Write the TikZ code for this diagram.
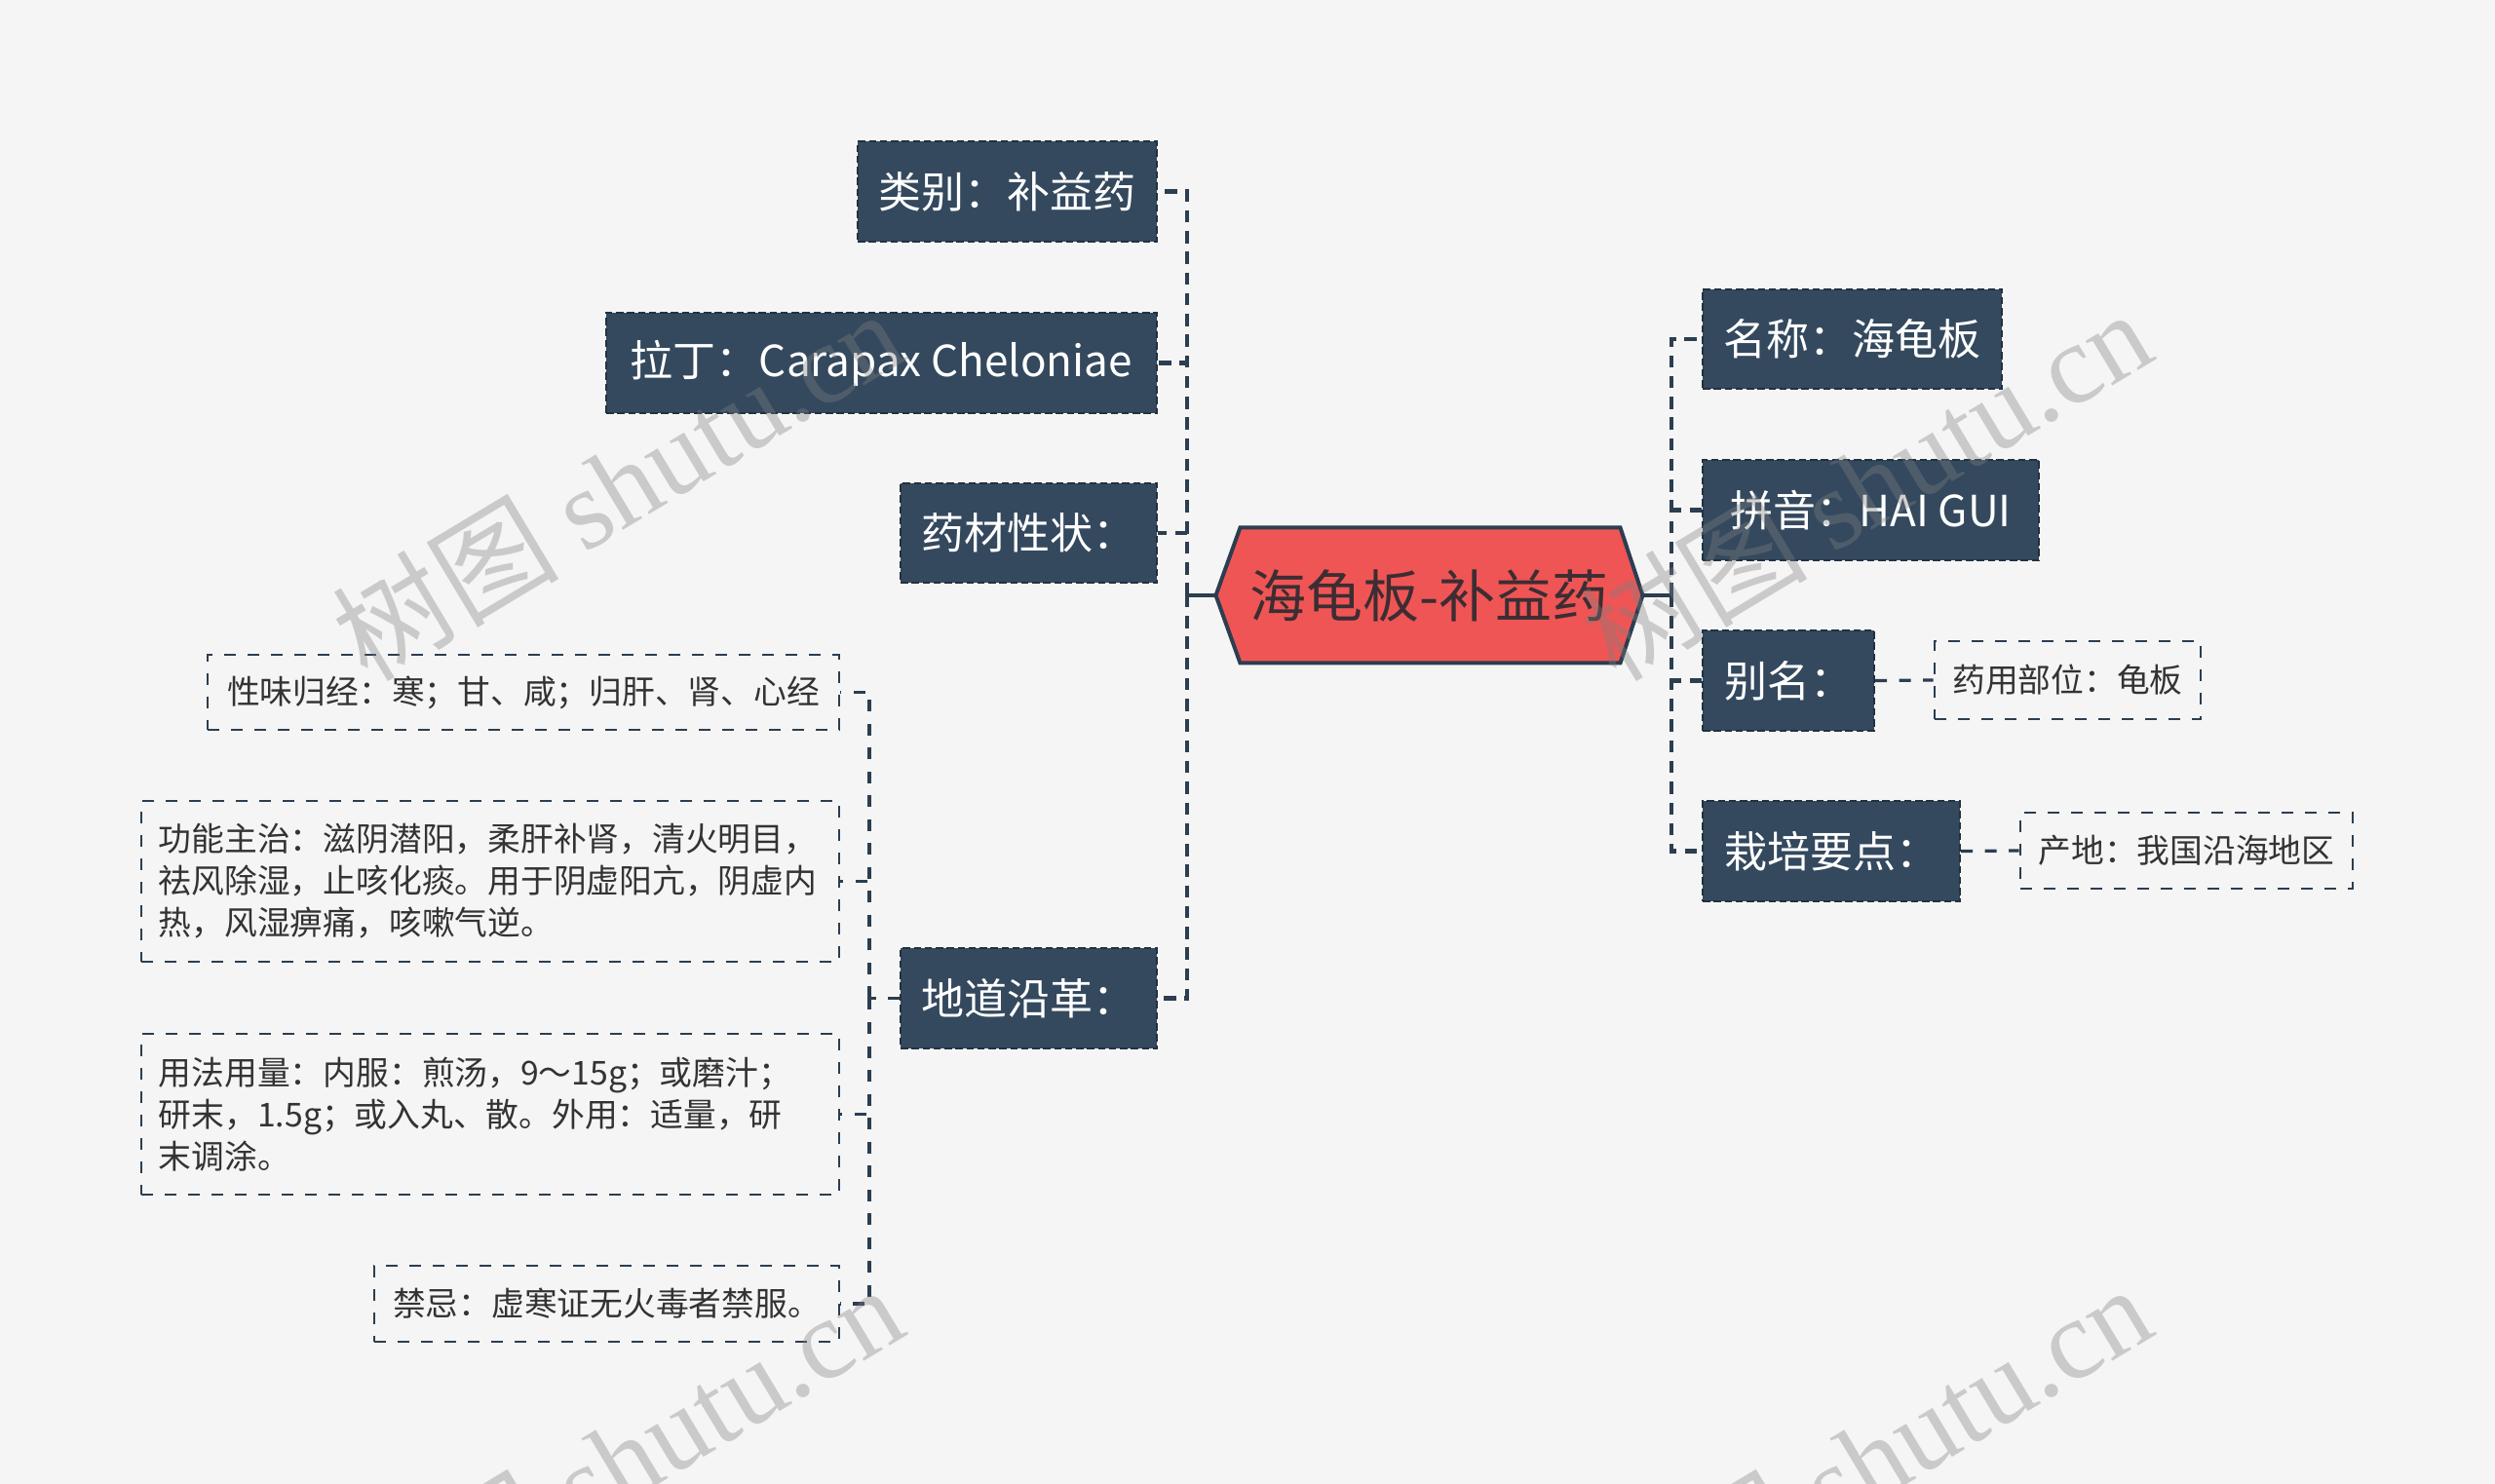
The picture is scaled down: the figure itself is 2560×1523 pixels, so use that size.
\documentclass[tikz,border=0pt]{standalone}
\usepackage{fontspec}
\setmainfont{Noto Sans CJK SC}
\newfontfamily\wmserif{Liberation Serif}
\usetikzlibrary{calc,backgrounds}
\definecolor{bgc}{HTML}{F5F5F5}
\definecolor{boxc}{HTML}{34495E}
\definecolor{boxedge}{HTML}{22313F}
\definecolor{linec}{HTML}{2C3E50}
\definecolor{rootc}{HTML}{EF5555}
\definecolor{roottext}{HTML}{3C2D33}
\definecolor{leaftext}{HTML}{333333}
\definecolor{wmc}{HTML}{808080}
\tikzset{
  mainbox/.style={fill=boxc, draw=boxedge, line width=0.8pt, dash pattern=on 3pt off 1.5pt,
    text=white, font=\fontsize{17.6}{21}\selectfont, minimum height=41pt, inner sep=0pt},
  leafbox/.style={draw=linec, line width=1.1pt, dash pattern=on 4.8pt off 4.8pt,
    text=leaftext, font=\fontsize{13.5}{17.2}\selectfont, inner sep=0pt, align=left},
  multileaf/.style={leafbox, text width=272pt, inner xsep=7.2pt, minimum height=66pt},
  rootnode/.style={minimum width=174.8pt, minimum height=55.2pt, inner sep=0pt,
    text=roottext, font=\fontsize{23.2}{26}\selectfont},
  rootshape/.style={fill=rootc, draw=linec, line width=1.6pt, line join=miter},
  rootline/.style={draw=linec, line width=1.6pt},
  mainline/.style={draw=linec, line width=1.8pt, dash pattern=on 5pt off 3.5pt},
  leafline/.style={draw=linec, line width=1.3pt, dash pattern=on 4.8pt off 5pt},
  wm/.style={text=wmc, text opacity=0.36, rotate=31, anchor=base west, inner sep=0pt,
    font=\fontsize{46.5}{48}\selectfont}
}
\begin{document}
\begin{tikzpicture}[x=0.4pt,y=-0.4pt]
\useasboundingbox (0,0) rectangle (2560,1523);

% root
\node[rootnode] (root) at (1466.5,611) {海龟板-补益药};
\begin{scope}[on background layer]
  \fill[bgc] (0,0) rectangle (2560,1523);
  \draw[rootshape] ($(root.north west)+(25,0)$) -- ($(root.north east)+(-23,0)$) -- (root.east)
     -- ($(root.south east)+(-23,0)$) -- ($(root.south west)+(25,0)$) -- (root.west) -- cycle;
\end{scope}

% left main boxes
\node[mainbox, minimum width=122.8pt] (lb1) at (1033.5,196.5) {类别：补益药};
\node[mainbox, minimum width=226pt]   (lb2) at (904.5,372.5) {拉丁：Carapax Cheloniae};
\node[mainbox, minimum width=105.2pt] (lb3) at (1055.5,547) {药材性状：};
\node[mainbox, minimum width=105.2pt] (lb4) at (1055.5,1024.5) {地道沿革：};

% right main boxes
\node[mainbox, minimum width=122.8pt] (rb1) at (1900.5,348) {名称：海龟板};
\node[mainbox, minimum width=138pt]   (rb2) at (1919.5,523.5) {拼音：HAI GUI};
\node[mainbox, minimum width=70.4pt]  (rb3) at (1835,698.5) {别名：};
\node[mainbox, minimum width=105.6pt] (rb4) at (1879,873.5) {栽培要点：};

% right leaves
\node[leafbox, minimum width=109.2pt, minimum height=32pt] (rl1) at (2121.5,698) {药用部位：龟板};
\node[leafbox, minimum width=136.4pt, minimum height=31.2pt] (rl2) at (2243.5,873) {产地：我国沿海地区};

% left leaves
\node[leafbox, minimum width=259.2pt, minimum height=30.8pt] (ll1) at (537,710.5) {性味归经：寒；甘、咸；归肝、肾、心经};
\node[multileaf] (ll2) at (503,904.5) {功能主治：滋阴潜阳，柔肝补肾，清火明目，\\祛风除湿，止咳化痰。用于阴虚阳亢，阴虚内\\热，风湿痹痛，咳嗽气逆。};
\node[multileaf] (ll3) at (503,1143.5) {用法用量：内服：煎汤，9～15g；或磨汁；\\研末，1.5g；或入丸、散。外用：适量，研\\末调涂。};
\node[leafbox, minimum width=190.8pt, minimum height=31.2pt] (ll4) at (622.5,1338) {禁忌：虚寒证无火毒者禁服。};

% trunks
\coordinate (lt) at (1218,611);
\coordinate (rt) at (1715,611);
\coordinate (dt) at (892,1024.5);

\draw[rootline] (root.west) -- (lt);
\draw[rootline] (root.east) -- (rt);
\foreach \n in {lb1,lb2,lb3,lb4} { \draw[mainline] (lt) |- (\n.east); }
\foreach \n in {rb1,rb2,rb3,rb4} { \draw[mainline] (rt) |- (\n.west); }
\draw[leafline] (lb4.west) -- (dt);
\foreach \n in {ll1,ll2,ll3,ll4} { \draw[leafline] (dt) |- (\n.east); }
\draw[leafline] (rb3.east) -- (rl1.west);
\draw[leafline] (rb4.east) -- (rl2.west);

% watermarks
\begin{scope}
  \clip (0,0) rectangle (2560,1523);
  \node[wm] (wm1) at (377,702) {树图 {\wmserif shutu.cn}};
  \node[wm] (wm2) at (1658,702) {树图 {\wmserif shutu.cn}};
  \node[wm] (wm3) at (377,1703) {树图 {\wmserif shutu.cn}};
  \node[wm] (wm4) at (1658,1703) {树图 {\wmserif shutu.cn}};
\end{scope}
\end{tikzpicture}
\end{document}
